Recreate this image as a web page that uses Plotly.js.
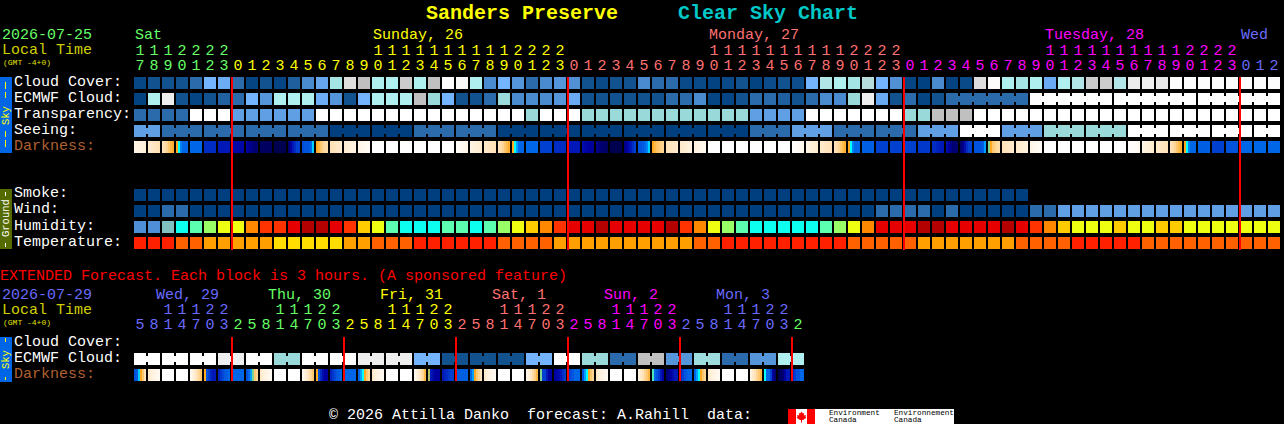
<!DOCTYPE html>
<html><head><meta charset="utf-8">
<script src="https://cdn.plot.ly/plotly-3.0.1.min.js"></script>
<style>html,body{margin:0;padding:0;background:#000;overflow:hidden}</style></head>
<body><div id="chart" style="width:1284px;height:424px"></div>
<script>
// ---------- hourly forecast (one value per hour column) ----------
const hoursMain = [17,18,19,20,21,22,23,
 0,1,2,3,4,5,6,7,8,9,10,11,12,13,14,15,16,17,18,19,20,21,22,23,
 0,1,2,3,4,5,6,7,8,9,10,11,12,13,14,15,16,17,18,19,20,21,22,23,
 0,1,2,3,4,5,6,7,8,9,10,11,12,13,14,15,16,17,18,19,20,21,22,23,
 0,1,2];
const cloudCover = [0.4,1,1,1,2,5,4.6,2,0.3,1,0.3,1.5,3,4.3,6.5,9,8,7,7,8.4,7,
 8,9.9,9.8,7,3,5,3.5,2,3,3.5,3.3,1,0.6,1,1,3,2,2,0.6,0.6,0.2,0.6,1,0.2,0.7,1,0.8,5,7.2,7,6.5,
 7.4,5,3.3,0.3,0.1,3,0.2,0.6,9,9.9,7,6.5,7,4.5,7,7.2,8.4,8.4,7.2,9.4,9.5,9.3,9.9,9.9,9.9,9.9,9.9,9.9,9.9,9.9];
const ecmwfCloud = [0.2,7,9.5,1,0.3,1,1.6,2,5,3.5,7,7,7,4.6,3.5,1,5,7,7,7,8,
 6,5,1,1,2,6,3,3,3,3.5,4.5,1,1,1,1,1,1,2,2,3,0.3,0.3,1,2,2,1.5,1,2,3,3,6,
 9.5,4.5,1,2,0.3,1,2,2,2,2,2,2,10,10,10,10,10,10,10,10,10,10,10,10,10,10,10,10,10,10];
const transparency = [2,2,2,2,10,10,10,4,4,4,4,4,4,10,10,10,10,10,10,10,10,10,10,10,10,10,10,10,
 6,10,10,10,6,6,6,6,6,6,6,6,6,6,6,6,4,4,4,4,10,10,10,10,10,10,10,6,6,8,8,8,
 10,10,10,10,10,10,10,10,10,10,10,10,10,10,10,10,10,10,10,10,10,10];
const seeing = [4,4,2,2,2,2,2,2,2,2,2,2,2,2,0,0,0,0,0,0,2,2,2,2,2,2,
 0,0,0,0,0,0,0,0,0,0,0,0,0,0,0,0,0,0,2,2,2,4,4,4,2,2,2,2,2,2,4,4,4,
 10,10,10,4,4,4,6,6,6,6,6,6,10,10,10,10,10,10,10,10,10,10,10];
const smoke = [0,0,0,0,0,0,0,0,0,0,0,0,0,0,0,0,0,0,0,0,0,0,0,0,0,0,0,0,0,0,0,0,
 0,0,0,0,0,0,0,0,0,0,0,0,0,0,0,0,0,0,0,0,0,0,0,0,0,0,0,0,0,0,0,0];
const wind = [0,0,2,2,0,0,0,0,0,0,0,0,0,0,0,0,0,0,0,0,0,0,0,0,0,0,0,0,0,0,0,0,
 0,0,0,0,0,0,0,0,0,0,0,0,0,0,0,0,0,0,0,0,0,2,2,2,2,0,2,0,0,0,0,0,2,2,
 4,4,4,4,4,4,4,4,4,4,4,4,4,4,4,4];
const humidity = [0,0,1,2,3,4,5,5,7,8,8,9,10,10,9,8,6,5,3,2,2,
 2,3,3,2,3,4,5,6,7,8,9,9,10,9,9,9,9,10,8,7,5,4,3,2,2,2,2,2,3,4,5,
 7,9,9,9,10,10,9,9,9,9,10,9,8,7,6,5,5,5,6,5,5,6,6,5,5,5,5,5,5,5];
const temperature = [0,0,0,1,1,2,2,2,2,2,3,3,3,3,3,2,2,1,1,1,0,
 0,0,0,0,0,1,1,1,1,2,2,2,2,2,2,2,2,2,2,1,1,0,0,0,0,0,0,0,0,0,1,
 1,1,1,1,2,2,2,2,2,2,2,1,1,1,1,0,0,0,0,0,1,1,1,1,1,1,1,1,1,1];
// darkness: a lone number is a uniform hour, a list runs across the hour
const darkness = [[0.8,0.9,1,1,1,1.2],[1.5,1.5,1.7,1.8,2,2],[2,2.2,2.5,3,3.5,3.8],[4,5,6.5,7,7,7],7,8.5,9,9.7,
 [10,10.3,10.5,10.8,11,11],11.5,12,[11,10,9,8.5,8,8],[7.7,7.5,7.5,7.5,7,5.5],[4,3.5,3,2.5,2.3,2.2],[2,2,1.8,1.7,1.6,1.5],[1.4,1.3,1.2,1.1,1,1],[0.8,0.7,0.6,0.5,0.4,0.3],
 0,0,0,0,0,0,[0.2,0.3,0.4,0.5,0.6,0.7],[0.8,1,1.1,1.2,1.3,1.4],[1.5,1.6,1.7,1.8,1.9,2],[2,2.2,2.5,3,3.4,3.8],[4,5,6,7,7,7],7,8,8.5,9,[9.5,9.7,9.9,10,10.1,10.2],[10.5,10.7,11,11.2,11.4,11.5],12,
 [10.5,10,9.5,9,8.5,8],[7.5,7.5,7.3,7,6.5,5.5],[4,3.5,3.2,3,2.7,2.5],[2,1.9,1.8,1.7,1.6,1.5],[1.5,1.4,1.3,1.2,1.1,1],[1,0.9,0.8,0.7,0.6,0.5],
 0,0,0,0,0,0,[0.1,0.2,0.3,0.4,0.5,0.6],[0.8,1,1.1,1.2,1.3,1.4],[1.5,1.6,1.7,1.8,1.9,2],[2,2.2,2.5,3,3.4,3.8],[4,5,6.5,7,7,7],
 7.2,8,8,8,8.2,[8.5,8.5,8.7,8.8,9,9],[9.5,10,10.5,11,11,11],[11,10.5,9.5,8.5,8,8],[7.5,7.5,7.5,7.5,7.2,6],[4.5,4,3,2.7,2.4,2.2],[2,1.9,1.8,1.7,1.6,1.5],[1.5,1.4,1.3,1.2,1.1,1],[0.8,0.7,0.6,0.5,0.4,0.3],
 0,0,0,0,0,0,[0.1,0.2,0.3,0.3,0.4,0.5],[0.8,1,1.1,1.2,1.3,1.4],[1.5,1.6,1.7,1.8,1.9,2],[2,2.2,2.5,3,3.4,3.8],[4,5,6.5,7,7,7],7.2,8,7.5,7,7,7];
// hourly rows whose blocks really span several hours: first column of each block
const seeingBlockStarts = [0,2,5,8,11,14,17,20,23,26,29,32,35,38,41,44,47,50,53,56,59,62,65,68,71,74,77,80];
const ecmwfBlockStarts = [58,64,70,76];
// ---------- extended forecast ----------
const hoursExt = [5,8,11,14,17,20,23,2,5,8,11,14,17,20,23,2,5,8,11,14,17,20,23,2,5,8,11,14,17,20,23,2,5,8,11,14,17,20,23,2,5,8,11,14,17,20,23,2];
const ecmwfExt = [10,10,10,9.5,10,6,10,10,9.5,9.5,5,1,1,1,5,10,6,2,8,3.5,6.2,2,3.5,7];
const darknessExt = [[7.5,7.3,5.5,4,3,2],[1.5,1.2,1,0.8,0.6,0.5],0,0,[0.5,1,1.5,2,2.5,3],[4,7.5,8,8.7,9,9],[8.7,8.2,7.8,7.4,7.2,7],7,
 [7.5,7,6,4.5,3,2.5],[1.5,1.2,1,0.8,0.6,0.5],0,0,[0.5,1,1.5,2,2.5,3],[4,7.5,8.5,9.5,10,10],[8.7,8.2,7.8,7.4,7.2,7],7,
 [7,6,5,4,3,2.5],[1.5,1.2,1,0.8,0.6,0.5],0,0,[0.5,1,1.5,2,2.5,3.5],[4.3,9,9.5,10,10,10],[9,8.7,8.5,8.2,8,8],7.2,
 [7,6,4,3,2.5,2],[1.5,1.2,1,0.8,0.6,0.5],0,0,[0.8,1.2,1.7,2.2,2.8,3.5],[4.5,8,8,9,10,10],[10,9.8,9.5,9,8.5,8],[8,7.7,7.4,7,7,7],
 [7.5,6,5,4,3,2.5],[1.5,1.2,1,0.8,0.6,0.5],0,0,[1,1.5,2,2.5,3,3.5],[4.7,7,7.5,8,9,10],[11,10.5,10,9.5,9,9],[8.5,8,7.5,7.2,7,7],
 [7,6,5,4,3,2.5],[1.5,1.2,1,0.8,0.6,0.5],0,0,[1,1.5,2,2.5,3,3.5],[5,7,7,8,10,11],[12,11.5,11,10,9,9],[8.5,8,7.5,7.5,7,7]];
// ---------- labels ----------
const skyRowNames = ['Cloud Cover:','ECMWF Cloud:','Transparency:','Seeing:'];
const groundRowNames = ['Smoke:','Wind:','Humidity:','Temperature:'];
const dayNames = ['Sat','Sunday, 26','Monday, 27','Tuesday, 28','Wed'];
const dayLabelCols = [0,17,41,65,79];
const dayColorCols = [0,7,31,55,79];
const dayNamesExt = ['Wed, 29','Thu, 30','Fri, 31','Sat, 1','Sun, 2','Mon, 3'];
const dayStartColsExt = [1.6,9.6,17.6,25.6,33.6,41.6];
const midnightCols = [7,31,55,79];
const midnightColsExt = [7,15,23,31,39,47];
// ---------- palettes ----------
const GREEN='#66ff66',YEL='#ffff00',SAL='#ff7070',MAG='#ff00ff',BLU='#6a6aff';
const cloudColors = ['#003f7f','#12528f','#2b6bab','#4a8acf','#609fe4','#74b4ff','#99d9d9','#afefef','#c0c0c0','#dddddd','#ffffff'];
const humidityColors = ['#4f8fd8','#80c0c0','#0dffef','#5cffb0','#99ff66','#eeff11','#ffcc00','#ff8800','#ff3300','#e60000','#b30000'];
const temperatureColors = ['#ff2000','#ff6000','#ffa000','#ffdd00'];
const darknessColors = ['#ffffff','#fff3e0','#ffe2b8','#ffc870','#ffa820','#00ffff','#00a0ff','#0066e8','#0040d0','#0018b8','#0000a0','#000070','#000050'];

const FONT='"Liberation Mono", monospace';
const W=1284,H=424,PITCH=14,ROW=16;
// axis ranges make one column 14px and one row 16px
const xRange=[-140/PITCH,(W-140)/PITCH], yRange=[(H-83)/ROW,-83/ROW];
const rowOfPx=p=>(p-83)/ROW;
const scale=cs=>cs.map((c,i)=>[i/(cs.length-1),c]);

function heat(z,colors,y0,opts){
  return Object.assign({type:'heatmap',z,x0:0,dx:1,y0,dy:1,xgap:2,ygap:4,zmin:0,zmax:colors.length-1,
    colorscale:scale(colors),showscale:false,hoverinfo:'skip'},opts||{});
}
function necks(values,starts,from){
  const row=[];
  for(let k=0;k<values.length-1;k++){
    row.push(k>=from && !starts.includes(k+1)? values[k]:null);
  }
  return row;
}
function sub(dark){
  const row=[];
  dark.forEach(d=>{const a=Array.isArray(d)?d:[d,d,d,d,d,d];row.push(...a,null);});
  return row;
}
const ecmwfExpanded=[];ecmwfExt.forEach(v=>ecmwfExpanded.push(v,v));
const traces=[
 heat([cloudCover,ecmwfCloud,transparency,seeing],cloudColors,0),
 heat([necks(seeing,seeingBlockStarts,0)],cloudColors,3,{x0:0.5,xgap:12,ygap:10}),
 heat([necks(ecmwfCloud,ecmwfBlockStarts,ecmwfBlockStarts[0])],cloudColors,1,{x0:0.5,xgap:12,ygap:10}),
 heat([sub(darkness)],darknessColors,4,{x0:-3/7+1/14,dx:1/7,xgap:0}),
 heat([smoke,wind],cloudColors,7),
 heat([humidity],humidityColors,9),
 heat([temperature],temperatureColors,10),
 heat([ecmwfExpanded],cloudColors,rowOfPx(359)),
 heat([ecmwfExpanded.slice(0,-1).map((v,k)=>k%2===0?v:null)],cloudColors,rowOfPx(359),{x0:0.5,xgap:12,ygap:10}),
 heat([sub(darknessExt)],darknessColors,rowOfPx(375),{x0:-3/7+1/14,dx:1/7,xgap:0})
];
// midnight markers
function redLines(cols,top,bottom){
  const x=[],y=[];
  cols.forEach(c=>{x.push(c-3/7,c-3/7,null);y.push(rowOfPx(top),rowOfPx(bottom),null);});
  return {type:'scatter',mode:'lines',x,y,line:{color:'#ff0000',width:2},hoverinfo:'skip',showlegend:false};
}
traces.push(redLines(midnightCols,77,250),redLines(midnightColsExt,337,381));
// hour digits
function digits(hours,colorOf,yTens,yUnits){
  const xs=hours.map((_,k)=>k), colors=hours.map((_,k)=>colorOf(k));
  return [
   {type:'scatter',mode:'text',x:xs,y:hours.map(()=>rowOfPx(yTens)),text:hours.map(h=>h>=10?String(Math.floor(h/10)):''),
    textfont:{family:FONT,size:15,color:colors},textposition:'middle center',hoverinfo:'skip',showlegend:false,cliponaxis:false},
   {type:'scatter',mode:'text',x:xs,y:hours.map(()=>rowOfPx(yUnits)),text:hours.map(h=>String(h%10)),
    textfont:{family:FONT,size:15,color:colors},textposition:'middle center',hoverinfo:'skip',showlegend:false,cliponaxis:false}
  ];
}
const mainColor=k=>k<7?GREEN:k<31?YEL:k<55?SAL:k<79?MAG:BLU;
const extPalette=[BLU,GREEN,YEL,SAL,MAG,BLU,GREEN];
const extColor=k=>extPalette[Math.floor((k+1)/8)];
traces.push(...digits(hoursMain,mainColor,51,66),...digits(hoursExt,extColor,310,325));

// text and decoration
const ann=[];
function label(text,px,py,color,size,extra){
  ann.push(Object.assign({text,xref:'paper',yref:'paper',x:px/W,y:1-py/H,xanchor:'left',yanchor:'middle',showarrow:false,
    borderpad:0,borderwidth:0,font:{family:FONT,size:size||15,color}},extra||{}));
}
function vlabel(text,cy,color,size){
  ann.push({text,xref:'paper',yref:'paper',x:6/W,y:1-cy/H,xanchor:'center',yanchor:'middle',textangle:-90,showarrow:false,
    borderpad:0,borderwidth:0,font:{family:FONT,size,color}});
}
label('<b>Sanders Preserve</b>',426,13,'#ffff00',20);
label('<b>Clear Sky Chart</b>',678,13,'#00c8c8',20);
label('2026-07-25',2,36,GREEN);
label('Local Time',2,51,'#d0d000');
label('(GMT -4+0)',3,62,'#e0e000',8);
dayNames.forEach((d,i)=>label(d,134+dayLabelCols[i]*PITCH+1,36,mainColor(dayColorCols[i])));
skyRowNames.forEach((n,i)=>label(n,14,82+16*i,'#ffffff'));
label('Darkness:',14,146,'#b06030');
groundRowNames.forEach((n,i)=>label(n,14,194+16*i,'#ffffff'));
label('EXTENDED Forecast. Each block is 3 hours. (A sponsored feature)',0,276,'#ff0000');
label('2026-07-29',2,295,BLU);
label('Local Time',2,310,'#d0d000');
label('(GMT -4+0)',3,322,'#e0e000',8);
dayNamesExt.forEach((d,i)=>label(d,134+dayStartColsExt[i]*PITCH,295,extPalette[i]));
label('Cloud Cover:',14,342,'#ffffff');
label('ECMWF Cloud:',14,358,'#ffffff');
label('Darkness:',14,374,'#b06030');
label('\u00A9 2026 Attilla Danko\u00A0\u00A0forecast: A.Rahill\u00A0\u00A0data:',329,415.5,'#ffffff');
vlabel('Sky',115,'#ffff00',10.5);
vlabel('Ground',218,'#ffffff',10.5);
vlabel('Sky',359,'#ffff00',10.5);
label('Environment',829,413,'#000000',7.7);
label('Canada',829,420,'#000000',7.7);
label('Environnement',894,413,'#000000',7.7);
label('Canada',894,420,'#000000',7.7);

const px=(x0,y0,x1,y1,color)=>({type:'rect',xref:'paper',yref:'paper',x0:x0/W,x1:x1/W,y0:1-y0/H,y1:1-y1/H,fillcolor:color,line:{width:0},layer:'below'});
const pxTop=(x0,y0,x1,y1,color)=>Object.assign(px(x0,y0,x1,y1,color),{layer:'above'});
const leafPts=[[801.5,411.5],[802.8,413.5],[804.2,413],[803.8,415.5],[806,415],[805.5,417],[806.5,417.8],[803,420],[802,420],[802,422.5],[801,422.5],[801,420],[800,420],[796.5,417.8],[797.5,417],[797,415],[799.2,415.5],[798.8,413],[800.2,413.5]];
const leaf={type:'path',xref:'paper',yref:'paper',path:'M'+leafPts.map(p=>(p[0]/W)+','+(1-p[1]/H)).join(' L')+' Z',fillcolor:'#ff0000',line:{width:0},layer:'above'};
const shapes=[
 px(0,77,12,153,'#0066e6'),
 px(0,189,12,249,'#556b00'),
 px(0,337,12,382,'#0066e6'),
 pxTop(5,82,6,89,'#ffff00'),pxTop(5,92,6,98,'#ffff00'),pxTop(5,131,6,137,'#ffff00'),pxTop(5,140,6,147,'#ffff00'),
 pxTop(5,192,6,196,'#ffffff'),pxTop(5,243,6,247,'#ffffff'),
 pxTop(5,338,6,342,'#ffff00'),pxTop(5,377,6,380,'#ffff00'),
 px(788,409,954,424,'#ffffff'),
 px(788,409,796,424,'#ff0000'),
 px(807,409,815,424,'#ff0000'),
 leaf
];
Plotly.newPlot('chart',traces,{
  width:W,height:H,margin:{l:0,r:0,t:0,b:0,pad:0},paper_bgcolor:'#000',plot_bgcolor:'rgba(0,0,0,0)',showlegend:false,
  xaxis:{range:xRange,visible:false,fixedrange:true},
  yaxis:{range:yRange,visible:false,fixedrange:true},
  annotations:ann,shapes
},{displayModeBar:false,staticPlot:true});
</script></body></html>
